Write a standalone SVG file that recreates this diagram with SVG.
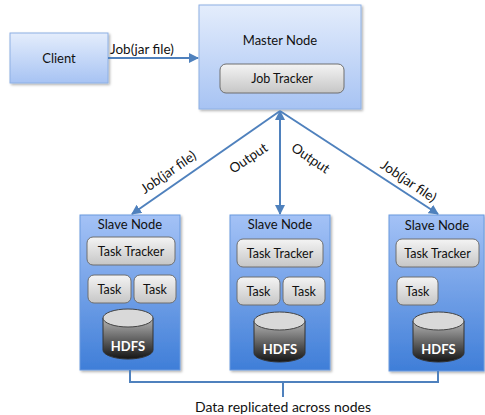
<svg xmlns="http://www.w3.org/2000/svg" width="485" height="415" viewBox="0 0 485 415">
<style>
text{font-family:Lato,"Open Sans","Liberation Sans",sans-serif;fill:#111;}
.lbl{font-size:13.5px;}
.title{font-size:13px;text-anchor:middle;}
.inner{font-size:12.5px;text-anchor:middle;}
.hd{font-size:13px;text-anchor:middle;fill:#fff;font-weight:bold;}
.conn{stroke:#4f81bd;stroke-width:2;fill:none;}
.lt{fill:url(#gLight);stroke:#8eb0e4;stroke-width:1;filter:url(#sh);}
.dk{fill:url(#gDark);stroke:#6a9ade;stroke-width:1;filter:url(#sh);}
.gr{fill:url(#gGray);stroke:#6e6e6e;stroke-width:1;}
.cyl{fill:url(#gCyl);stroke:#333;stroke-width:1;}
.cyltop{fill:#d9d9d9;stroke:#444;stroke-width:1;}
</style>
<defs>
<linearGradient id="gLight" x1="0" y1="0" x2="0" y2="1">
<stop offset="0" stop-color="#e4edfc"/><stop offset="1" stop-color="#a7c3f3"/>
</linearGradient>
<linearGradient id="gDark" x1="0" y1="0" x2="0" y2="1">
<stop offset="0" stop-color="#a4c2f6"/><stop offset="1" stop-color="#3f7ed8"/>
</linearGradient>
<linearGradient id="gGray" x1="0" y1="0" x2="0" y2="1">
<stop offset="0" stop-color="#f4f4f4"/><stop offset="1" stop-color="#c6c6c6"/>
</linearGradient>
<linearGradient id="gCyl" x1="0" y1="0" x2="0" y2="1">
<stop offset="0" stop-color="#b5b5b5"/><stop offset="1" stop-color="#151515"/>
</linearGradient>
<filter id="sh" x="-10%" y="-10%" width="125%" height="125%">
<feDropShadow dx="1.5" dy="1.5" stdDeviation="1.2" flood-color="#000" flood-opacity="0.3"/>
</filter>
<marker id="ah" viewBox="0 0 10 10" refX="9" refY="5" markerWidth="5" markerHeight="5" orient="auto-start-reverse">
<path d="M0,0 L10,5 L0,10 z" fill="#4f81bd"/>
</marker>
</defs>

<g id="client">
<rect class="lt" x="10" y="33" width="98" height="50"/>
<text class="title" x="59" y="63">Client</text>
</g>

<g id="master">
<rect class="lt" x="199" y="5" width="162" height="104"/>
<text class="title" x="280" y="45">Master Node</text>
<rect class="gr" x="220" y="64" width="124" height="29" rx="6"/>
<text class="inner" x="282" y="83">Job Tracker</text>
</g>

<g id="slave1">
<rect class="dk" x="80" y="215" width="100" height="155"/>
<text class="title" x="130" y="229">Slave Node</text>
<rect class="gr" x="87" y="237" width="88" height="28" rx="6"/>
<text class="inner" x="131" y="256">Task Tracker</text>
<rect class="gr" x="88" y="275" width="43" height="28" rx="6"/>
<text class="inner" x="109.5" y="294">Task</text>
<rect class="gr" x="134" y="275" width="42" height="28" rx="6"/>
<text class="inner" x="155" y="294">Task</text>
<path class="cyl" d="M103,318 V350 A25,9 0 0 0 153,350 V318 Z"/>
<ellipse class="cyltop" cx="128" cy="318" rx="25" ry="9"/>
<text class="hd" x="128" y="351">HDFS</text>
</g>

<g id="slave2">
<rect class="dk" x="230" y="215" width="100" height="155"/>
<text class="title" x="280" y="229">Slave Node</text>
<rect class="gr" x="237" y="239" width="86" height="28" rx="6"/>
<text class="inner" x="280" y="258">Task Tracker</text>
<rect class="gr" x="237" y="277" width="43" height="28" rx="6"/>
<text class="inner" x="258.5" y="296">Task</text>
<rect class="gr" x="283" y="277" width="42" height="28" rx="6"/>
<text class="inner" x="304" y="296">Task</text>
<path class="cyl" d="M254,321 V353 A25.5,9 0 0 0 305,353 V321 Z"/>
<ellipse class="cyltop" cx="279.5" cy="321" rx="25.5" ry="9"/>
<text class="hd" x="280" y="354">HDFS</text>
</g>

<g id="slave3">
<rect class="dk" x="389" y="215" width="95" height="156"/>
<text class="title" x="437" y="230">Slave Node</text>
<rect class="gr" x="396" y="239" width="83" height="28" rx="6"/>
<text class="inner" x="437.5" y="258">Task Tracker</text>
<rect class="gr" x="397" y="277" width="41" height="28" rx="6"/>
<text class="inner" x="417.5" y="296">Task</text>
<path class="cyl" d="M413,321 V353 A25.5,9 0 0 0 464,353 V321 Z"/>
<ellipse class="cyltop" cx="438.5" cy="321" rx="25.5" ry="9"/>
<text class="hd" x="438.5" y="354">HDFS</text>
</g>

<g id="connectors">
<line class="conn" x1="108" y1="58" x2="198" y2="58" marker-end="url(#ah)"/>
<line class="conn" x1="280" y1="111" x2="132" y2="214" marker-end="url(#ah)"/>
<line class="conn" x1="280" y1="111" x2="280" y2="214" marker-start="url(#ah)" marker-end="url(#ah)"/>
<line class="conn" x1="280" y1="111" x2="438" y2="214" marker-end="url(#ah)"/>
<path class="conn" d="M130,370 V382 H438 V371 M283,382 V397"/>
<text class="lbl" x="110" y="54">Job(jar file)</text>
<text class="lbl" text-anchor="middle" transform="translate(171,176) rotate(-35)">Job(jar file)</text>
<text class="lbl" text-anchor="middle" transform="translate(251,162) rotate(-34)">Output</text>
<text class="lbl" text-anchor="middle" transform="translate(308,162) rotate(34)">Output</text>
<text class="lbl" text-anchor="middle" transform="translate(406,185) rotate(34)">Job(jar file)</text>
<text class="lbl" text-anchor="middle" x="283" y="412" style="font-size:14px">Data replicated across nodes</text>
</g>
</svg>
